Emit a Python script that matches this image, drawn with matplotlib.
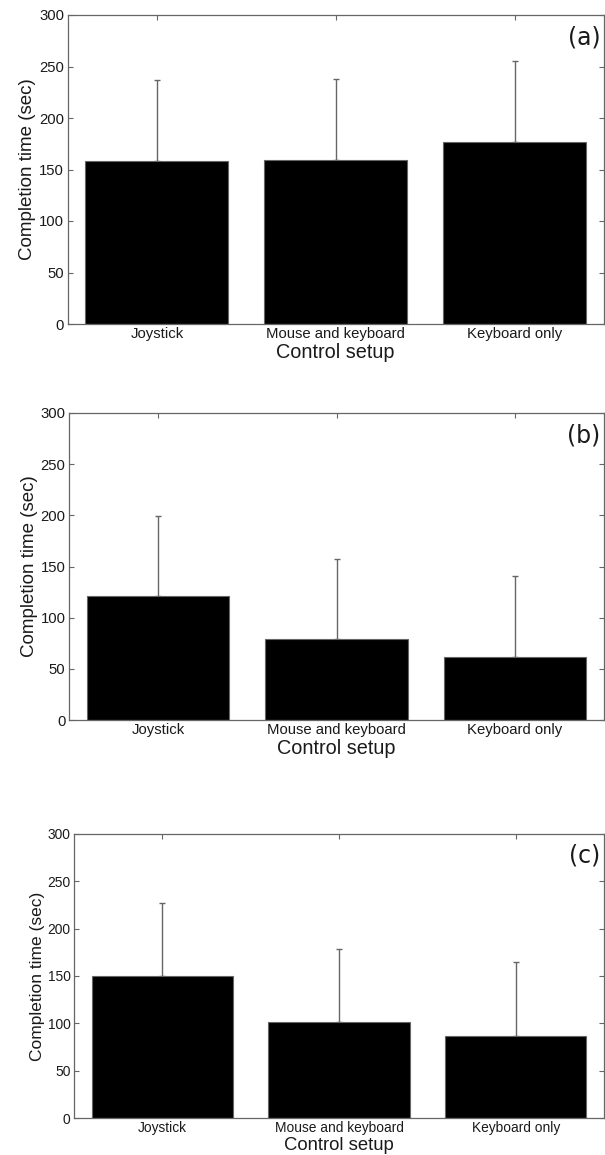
import matplotlib as mpl

mpl.use("Agg")
import matplotlib.pyplot as plt
import numpy as np

SETUPS = ["Joystick", "Mouse and keyboard", "Keyboard only"]
PANELS = ["(a)", "(b)", "(c)"]
MEAN_A = [158, 159, 177]
SD_A = [79, 79, 78]
MEAN_B = [121, 79, 62]
SD_B = [78, 78, 79]
MEAN_C = [150, 101, 87]
SD_C = [77, 78, 78]
YTICKS = [0, 50, 100, 150, 200, 250, 300]

INK, EDGE = "#1a1a1a", "#666666"
W, H = 605, 1155
# axes boxes in pixels: left, top, bottom, text scale (right edge shared)
BOXES = [(67.5, 15, 324, 1.0), (69, 413, 720, 1.0), (74, 834, 1118, 0.93)]
RIGHT = 604

plt.rcParams["font.family"] = ["Liberation Sans", "DejaVu Sans"]

fig = plt.figure(figsize=(W / 100, H / 100), dpi=100, facecolor="white")
x = np.arange(1, len(SETUPS) + 1)
for (left, top, bottom, s), tag, mean, sd in zip(
    BOXES, PANELS, [MEAN_A, MEAN_B, MEAN_C], [SD_A, SD_B, SD_C]
):
    ax = fig.add_axes([left / W, 1 - bottom / H, (RIGHT - left) / W, (bottom - top) / H])
    ax.bar(x, mean, width=0.8, color="black", edgecolor=EDGE, linewidth=0.8, zorder=2)
    ax.errorbar(x, mean, yerr=[np.zeros(len(sd)), sd], fmt="none", ecolor=EDGE,
                elinewidth=1.0, capsize=2.2, capthick=1.0, zorder=1)
    ax.set_xlim(0.5, 3.5)
    ax.set_ylim(0, 300)
    ax.set_yticks(YTICKS)
    ax.set_xticks(x)
    ax.set_xticklabels(SETUPS)
    ax.tick_params(direction="in", top=True, right=True, length=3.5, width=0.8,
                   colors=EDGE, labelcolor=INK, labelsize=10.7 * s, pad=2.5)
    for sp in ax.spines.values():
        sp.set_color(EDGE)
        sp.set_linewidth(0.9)
    ax.set_xlabel("Control setup", fontsize=14.3 * s, color=INK, labelpad=1)
    ax.set_ylabel("Completion time (sec)", fontsize=13.5 * s, color=INK, labelpad=2)
    ax.text(0.993, 0.965, tag, transform=ax.transAxes, ha="right", va="top",
            fontsize=17, family="DejaVu Sans", color=INK)

fig.savefig("out.png", dpi=100, facecolor="white")
